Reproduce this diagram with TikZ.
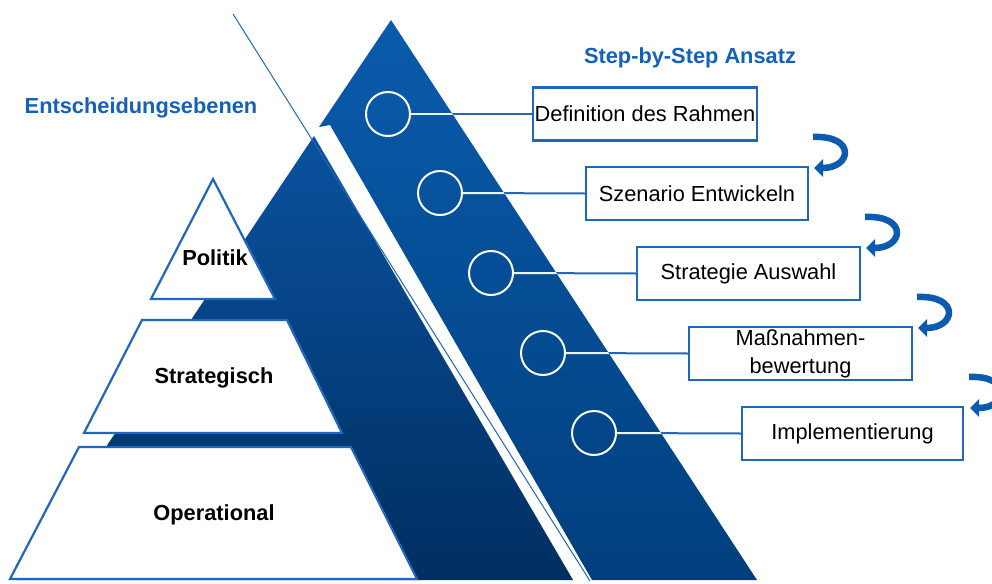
\documentclass[tikz,border=0pt]{standalone}
\usepackage{fontspec}
\setmainfont{Liberation Sans}
\usetikzlibrary{arrows.meta}
\definecolor{titleblue}{HTML}{1361BA}
\definecolor{edgeblue}{HTML}{1E67BC}
\definecolor{rtop}{HTML}{0A5BAC}
\definecolor{rbot}{HTML}{003F7D}
\definecolor{ltop}{HTML}{0A529F}
\definecolor{lbot}{HTML}{002E60}
\definecolor{arrblue}{HTML}{0D5BB0}
\begin{document}
\begin{tikzpicture}[x=1pt,y=-1pt,
  every node/.style={font=\fontsize{21.8}{25}\selectfont, inner sep=0pt},
  level/.style={fill=white, draw=edgeblue, line width=2.2pt, line join=miter},
  levellabel/.style={font=\fontsize{21.8}{25}\selectfont\bfseries, text=black},
  title/.style={font=\fontsize{21.8}{25}\selectfont\bfseries, text=titleblue},
  stepbox/.style={draw=edgeblue, fill=white, line width=2.5pt, minimum height=53pt, align=center, text=black},
  ring/.style={draw=white, line width=2pt, circle, minimum size=44pt},
  conn/.style={draw=edgeblue, line width=2pt},
  conninner/.style={draw=white!92!edgeblue, line width=2pt},
  turnarrow/.style={draw=arrblue, line width=6.5pt, -{Triangle[length=9pt,width=17pt]}},
  thinline/.style={draw=edgeblue, line width=1pt}
]
\useasboundingbox (0,0) rectangle (992,583);

% left (back) blue shape
\shade[top color=ltop, bottom color=lbot] (314,136) -- (573,580) -- (17,580) -- cycle;
% right blue shape
\shade[top color=rtop, bottom color=rbot] (391,20) -- (757,580) -- (592,580) -- (330,125) -- (319,127) -- cycle;

% thin diagonal line
\coordinate (tl1) at (233,14);
\coordinate (tl2) at (590,581);
\draw[thinline] (tl1) -- (tl2);

% level shapes
\path[level] (213,179) -- (275,299) -- (151,299) -- cycle;
\path[level] (142,320) -- (287,320) -- (342,433) -- (84,433) -- cycle;
\path[level] (79,447) -- (351,447) -- (417,579) -- (10,579) -- cycle;

\node[levellabel] (politik) at (215,258) {Politik};
\node[levellabel] (strat) at (214,378) {Strategisch};
\node[levellabel] (oper) at (214,515) {Operational};

% titles
\node[title] (ent) at (141,108) {Entscheidungsebenen};
\node[title] (sbs) at (690,58) {Step-by-Step Ansatz};

% rings
\node[ring] (c1) at (388,114) {};
\node[ring] (c2) at (440,193) {};
\node[ring] (c3) at (491,273) {};
\node[ring] (c4) at (543,353) {};
\node[ring] (c5) at (594,433) {};

% boxes
\node[stepbox, minimum width=224pt] (b1) at (645,114) {Definition des Rahmen};
\node[stepbox, minimum width=222pt] (b2) at (697,193.5) {Szenario Entwickeln};
\node[stepbox, minimum width=223pt] (b3) at (748.5,273.5) {Strategie Auswahl};
\node[stepbox, minimum width=223pt] (b4) at (800.5,353.5) {Ma\ss nahmen-\\[3pt]bewertung};
\node[stepbox, minimum width=221pt] (b5) at (852.5,433.5) {Implementierung};

% connectors
\foreach \i in {1,...,5} {
  \draw[conn] (c\i.east) -- (b\i.west);
}
\begin{scope}
  \clip (391,20) -- (757,580) -- (592,580) -- (330,125) -- (319,127) -- cycle;
  \foreach \i in {1,...,5} {
    \draw[conninner] (c\i.east) -- (b\i.west);
  }
\end{scope}

% turn arrows
\coordinate (a1s) at (813,137);
\coordinate (a1e) at (814,168);
\draw[turnarrow] (a1s) .. controls (856,135) and (852,168) .. (a1e);
\coordinate (a2s) at (865,217);
\coordinate (a2e) at (866,248);
\draw[turnarrow] (a2s) .. controls (908,215) and (904,248) .. (a2e);
\coordinate (a3s) at (917,297);
\coordinate (a3e) at (918,328);
\draw[turnarrow] (a3s) .. controls (960,295) and (956,328) .. (a3e);
\coordinate (a4s) at (969,377);
\coordinate (a4e) at (970,408);
\draw[turnarrow] (a4s) .. controls (1012,375) and (1008,408) .. (a4e);
\end{tikzpicture}
\end{document}
